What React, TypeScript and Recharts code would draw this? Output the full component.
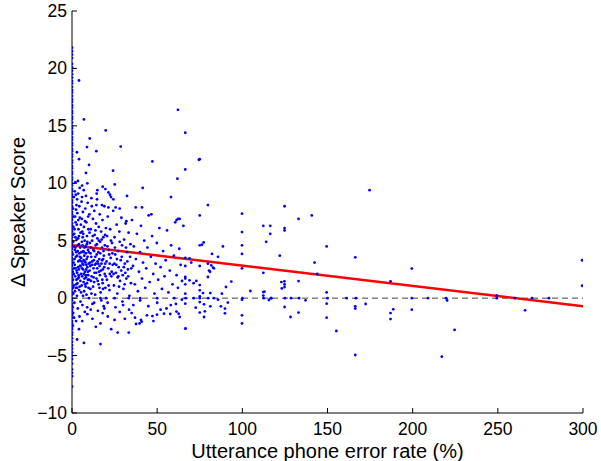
import { ScatterChart, Scatter, XAxis, YAxis, ReferenceLine, Label } from 'recharts';

// error rate (%) on x, change in speaker score on y

// utterances with 0% phone error, all sitting on the y axis
const zeroRateScores = [
  21.8, 21.5, 21.2, 20.9, 20.4, 20.1, 19.8, 19.5, 19.2, 18.9, 18.7, 18.4, 18.1, 17.9, 17.6, 17.3,
  17.1, 16.8, 16.6, 16.3, 16.1, 15.8, 15.6, 15.3, 15.0, 14.8, 14.5, 14.3, 14.0, 13.8, 13.5, 13.3,
  13.0, 12.8, 12.5, 12.3, 12.0, 11.8, 11.5, 11.3, 11.0, 10.8, 10.5, 10.3, 10.0, 9.8, 9.5, 9.3,
  9.0, 8.8, 8.5, 8.3, 8.0, 7.8, 7.5, 7.3, 7.0, 6.8, 6.5, 6.3, 6.0, 5.8, 5.5, 5.3, 5.0, 4.8,
  4.5, 4.3, 4.0, 3.8, 3.5, 3.3, 3.0, 2.8, 2.5, 2.3, 2.0, 1.8, 1.5, 1.3, 1.0, 0.8, 0.5, 0.3,
  0.0, -0.2, -0.5, -0.7, -1.0, -1.2, -1.5, -1.7, -2.0, -2.2, -2.5, -2.7, -3.0, -3.2, -3.5, -3.8,
  -4.1, -4.4, -4.7, -5.0, -5.3, -5.7, -6.2, -6.5, -6.8, -7.7,
];

// dense cloud, low error rates
const lowRatePoints: [number, number][] = [
  [0.6, 7.8], [0.8, 6.2], [0.7, 4.9], [0.9, 3.1], [0.6, 1.6], [0.8, 0.4], [0.7, -1.3], [1.1, 8.8],
  [1.3, 5.6], [1.2, 2.6], [1.4, -0.4], [1.6, 9.3], [1.8, 7.1], [1.7, 4.2], [1.9, 1.9], [2.1, 6.6],
  [2.3, 3.6], [2.2, 0.9], [2.4, -2.0], [2.6, 8.1], [2.8, 5.1], [2.7, 2.4], [2.9, 0.2], [3.1, 7.4],
  [3.3, 4.6], [3.2, 1.3], [3.4, -0.9], [3.6, 9.1], [3.8, 6.0], [3.7, 3.2], [3.9, 2.0], [4.1, 5.4],
  [4.3, 3.9], [4.2, 0.7], [4.4, -1.6], [4.6, 7.0], [4.8, 4.4], [4.7, 2.8], [4.9, 1.5], [5.0, -0.3],
  [5.2, 6.4], [5.4, 3.5], [5.3, 2.1], [5.6, 8.4], [5.8, 4.9], [5.7, 1.1], [6.0, 5.8], [6.2, 3.0],
  [6.1, -0.6], [6.4, 7.5], [6.6, 4.1], [6.5, 2.5], [6.8, 1.4], [7.0, 6.2], [7.2, 3.7], [7.1, 0.6],
  [7.4, 5.0], [7.6, 2.3], [7.5, -1.2], [7.8, 7.8], [8.0, 4.5], [7.9, 3.1], [8.2, 1.8], [8.4, 6.6],
  [8.6, 3.4], [8.5, 0.3], [8.8, 5.4], [9.0, 2.7], [8.9, -0.8], [9.2, 8.3], [9.4, 4.2], [9.3, 1.6],
  [9.6, 6.0], [9.8, 3.0], [9.7, 0.9], [6.3, 5.3], [7.3, 4.4], [8.1, 2.0], [9.1, 3.6], [5.5, 4.0],
  [6.7, 2.9], [8.7, 4.7], [1.5, 3.4], [2.5, 1.2], [3.5, 2.7], [4.5, 3.3], [5.9, 2.6], [7.7, 1.2],
  [1.0, 2.1], [2.0, 4.4], [3.0, 3.7], [4.0, 1.8], [6.9, 3.3], [8.3, 2.5], [9.5, 2.0], [3.6, 5.2],
  [10.2, 7.3], [10.5, 4.8], [10.4, 2.4], [10.8, 0.8], [11.0, 6.0], [11.3, 3.6], [11.2, 1.5],
  [11.6, 8.0], [11.8, 5.0], [11.7, 2.9], [12.0, -0.5], [12.3, 6.9], [12.5, 4.2], [12.4, 1.0],
  [12.8, 3.3], [13.1, 7.6], [13.3, 5.5], [13.2, 2.2], [13.6, 0.3], [13.9, 4.6], [14.1, 6.5],
  [14.0, 3.0], [14.4, 1.7], [14.7, 8.6], [14.9, 5.2], [14.8, 2.6], [15.2, -1.1], [15.5, 4.0],
  [15.7, 6.2], [15.6, 1.2], [16.0, 3.4], [16.3, 7.3], [16.5, 4.9], [16.4, 2.0], [16.8, 0.5],
  [17.1, 5.8], [17.3, 3.0], [17.2, -0.2], [17.6, 4.4], [17.9, 6.8], [18.1, 2.5], [18.0, 1.3],
  [18.4, 5.3], [18.7, 3.7], [18.6, -0.7], [19.0, 8.0], [19.3, 4.6], [19.2, 2.1], [19.6, 0.9],
  [19.9, 6.1], [10.9, 3.9], [12.6, 2.6], [14.5, 3.8], [16.2, 2.8], [18.3, 3.4], [11.5, 1.9],
  [13.7, 3.6], [15.9, 2.3], [17.8, 1.6], [19.5, 3.0], [10.6, 3.1], [15.0, 3.2], [13.0, 1.4],
];

// extra points filling the darkest part of the cloud
const densePoints: [number, number][] = [
  [0.4, 5.5], [0.5, 3.8], [0.4, 2.3], [0.5, 0.9], [0.4, -0.8], [0.5, -2.4], [0.9, 7.1], [1.0, 4.5],
  [1.1, 1.1], [1.2, -1.7], [1.5, 6.0], [1.6, 2.9], [1.7, 0.6], [2.0, 5.3], [2.1, 2.6], [2.4, 7.7],
  [2.5, 4.0], [2.6, 1.6], [2.8, 6.4], [3.0, 2.2], [3.1, 0.9], [3.4, 4.1], [3.5, 1.7], [3.7, 6.8],
  [4.0, 2.5], [4.1, 4.7], [4.3, 8.0], [4.5, 1.0], [4.6, 3.6], [5.0, 5.7], [5.1, 2.8], [5.3, 0.5],
  [5.6, 3.2], [5.8, 6.9], [6.0, 1.9], [6.2, 4.6], [6.5, 0.2], [6.6, 5.6], [6.9, 2.1], [7.0, 4.0],
  [7.3, 1.7], [7.5, 3.2], [7.7, 6.7], [8.0, 1.0], [8.2, 3.9], [8.4, 2.9], [8.8, 1.3], [9.0, 4.9],
  [9.3, 2.3], [9.5, 7.1], [9.9, 4.0], [10.1, 1.6], [10.3, 5.7], [10.7, 2.8], [11.1, 4.4],
  [11.4, 0.4], [11.9, 3.2], [12.2, 5.4], [12.7, 1.8], [13.0, 4.1], [13.4, 2.9], [13.8, 5.9],
  [14.2, 2.2], [14.6, 4.7], [15.1, 1.5], [15.4, 3.0], [15.8, 5.0], [16.1, 0.9], [16.6, 3.9],
  [17.0, 2.4], [17.4, 5.1], [17.7, 3.3], [18.2, 0.8], [18.5, 4.1], [18.9, 2.7], [19.4, 5.5],
  [19.8, 1.9], [20.8, 4.5], [21.5, 1.1], [22.1, 3.0], [22.9, 5.0], [23.7, 3.9], [24.4, 2.1],
  [25.2, 4.4], [26.4, 3.4], [27.2, 1.9], [28.0, 4.9], [29.2, 3.6], [30.4, 2.7], [31.7, 4.4],
  [33.0, 1.9], [34.8, 2.6],
];

// cloud thinning out, 20% to 65%
const midRatePoints: [number, number][] = [
  [20.3, 3.2], [20.6, 5.4], [20.5, 1.6], [21.0, 7.1], [21.3, 2.6], [21.6, 4.2], [22.0, 0.7],
  [22.4, 6.0], [22.7, 3.5], [23.1, 1.9], [23.5, 4.8], [23.9, 2.9], [24.2, 7.6], [24.6, 1.1],
  [25.0, 5.3], [25.4, 3.8], [25.8, 2.2], [26.2, 6.4], [26.6, 0.4], [27.0, 4.1], [27.4, 2.7],
  [27.8, 5.8], [28.2, 1.5], [28.6, 3.3], [29.0, 7.0], [29.4, 4.6], [29.8, 2.0], [30.2, 0.8],
  [30.6, 5.1], [31.0, 3.0], [31.5, 6.5], [31.9, 1.7], [32.3, 4.0], [32.8, 2.5], [33.2, 5.7],
  [33.7, 0.2], [34.1, 3.6], [34.6, 1.3], [21.8, 3.8], [23.3, 2.3], [24.9, 3.0], [26.8, 1.8],
  [28.9, 2.4], [30.9, 1.2], [32.5, 3.2], [34.3, 4.7], [20.9, -0.4], [25.5, -0.8], [29.6, -0.3],
  [33.5, -1.0], [22.2, 2.1], [26.0, 2.9], [27.6, 1.0], [31.3, 2.2],
  [35.2, 6.8], [35.8, 2.8], [36.3, 4.5], [36.9, 1.2], [37.5, 3.4], [38.1, 5.6], [38.7, 0.6],
  [39.3, 2.3], [39.9, 4.0], [40.5, 6.3], [41.1, 1.7], [41.7, 3.1], [42.4, 5.0], [43.0, 0.9],
  [43.6, 2.6], [44.3, 4.4], [45.0, 7.2], [45.6, 1.4], [46.3, 3.6], [47.0, 5.4], [47.7, 2.1],
  [48.4, 0.4], [49.1, 3.0], [49.8, 4.8], [50.6, 1.6], [51.3, 6.1], [52.0, 2.7], [52.8, 0.8],
  [53.5, 4.1], [54.3, 1.9], [55.0, 3.3], [55.8, 5.9], [56.6, 0.5], [57.4, 2.4], [58.2, 4.6],
  [59.0, 1.2], [59.8, 3.7], [60.6, 6.6], [61.4, 2.0], [62.2, 0.9], [63.0, 4.3], [63.8, 2.9],
  [64.6, 1.5], [65.4, 6.3], [36.0, -0.6], [40.0, -0.2], [44.8, -0.7], [50.0, -0.4], [55.5, -0.9],
  [61.0, -0.5], [46.6, 7.3], [62.2, 6.9], [61.4, 6.8], [31.9, 6.7],
];

// everything above ~8
const highScorePoints: [number, number][] = [
  [4.1, 18.95], [7.0, 15.56], [19.8, 14.6], [10.4, 13.9], [2.9, 12.7], [8.8, 13.15], [14.3, 12.8],
  [28.6, 13.2], [47.2, 11.9], [4.1, 12.1], [10.0, 11.6], [24.1, 11.1], [8.2, 10.9], [61.9, 10.4],
  [2.0, 10.1], [3.5, 10.2], [5.9, 9.8], [9.0, 10.0], [4.5, 9.6], [6.9, 9.4], [18.0, 9.7],
  [19.6, 9.5], [14.9, 9.4], [14.5, 9.1], [25.1, 9.9], [21.4, 9.2], [22.3, 9.0], [22.9, 8.8],
  [24.3, 8.6], [41.5, 9.6], [32.3, 8.9], [58.1, 8.8], [2.2, 9.0], [3.0, 8.6], [5.9, 8.8],
  [11.4, 8.7], [8.2, 8.9], [37.4, 7.9], [41.1, 7.9], [14.3, 8.1], [17.6, 8.1], [21.4, 7.9],
  [25.6, 7.9], [28.0, 7.8], [62.2, 16.4], [66.5, 14.4], [74.5, 12.05], [75.0, 12.1], [66.5, 11.2],
  [79.8, 8.1], [63.2, 6.9], [75.0, 7.2], [99.8, 7.35], [124.8, 8.0], [133.0, 6.9], [140.8, 7.2],
  [112.3, 6.3], [116.4, 6.3], [124.8, 6.1], [124.8, 5.9], [116.4, 5.6], [99.8, 5.75], [174.7, 9.4],
];

// sparse points at higher error rates, near the fit line
const highRatePoints: [number, number][] = [
  [114.0, 4.9], [75.0, 4.6], [76.3, 4.65], [77.3, 4.85], [88.6, 4.5], [99.8, 4.6], [149.5, 4.5],
  [82.2, 3.85], [85.7, 3.6], [99.8, 3.85], [122.0, 3.7], [166.3, 3.55], [142.4, 3.1], [66.5, 3.5],
  [69.0, 3.45], [70.0, 3.1], [66.5, 2.8], [75.0, 2.8], [79.8, 3.0], [81.8, 2.85], [83.3, 2.6],
  [99.8, 2.6], [81.0, 2.3], [80.5, 2.4], [82.8, 2.65], [144.0, 2.1], [112.3, 2.2], [187.0, 1.46],
  [66.5, 1.84], [66.5, 1.7], [66.5, 1.2], [66.5, 0.39], [69.0, 1.55], [71.4, 1.3], [73.0, 1.5],
  [75.0, 1.14], [75.0, 0.68], [75.0, 0.16], [76.9, 0.44], [79.8, 1.84], [81.2, 0.44], [88.0, 0.39],
  [90.4, 0.97], [93.5, 1.44], [104.7, 0.62], [112.3, 0.53], [112.3, 0.22], [113.0, 0.56],
  [117.0, 0.0], [122.9, 1.4], [124.7, 1.46], [124.8, 1.2], [124.8, 0.97], [123.2, 0.85],
  [133.0, 1.49], [149.5, 0.5], [199.5, 2.57], [249.4, 0.22], [299.5, 3.3], [299.5, 1.08],
];

// points below the zero line
const negativePoints: [number, number][] = [
  [4.1, -2.7], [7.0, -3.9], [16.7, -4.0], [16.7, -2.2], [26.8, -3.0], [33.3, -3.0], [37.0, -1.7],
  [40.5, -1.9], [40.9, -2.05], [37.6, -2.25], [39.7, -2.2], [47.2, -1.56], [47.8, -2.0],
  [49.9, -1.44], [54.0, -1.35], [57.7, -1.38], [61.3, -1.17], [62.6, -1.35], [66.7, -2.65],
  [9.0, -1.4], [12.0, -1.8], [14.0, -2.5], [18.0, -1.3], [21.0, -1.6], [23.0, -2.7], [11.0, -1.0],
  [13.0, -0.4], [28.0, -1.2], [31.0, -1.8], [30.0, -0.6], [35.0, -1.3], [44.0, -1.5], [52.0, -1.0],
  [58.0, -0.6], [3.0, -3.6], [6.0, -2.0], [19.0, -0.9], [25.0, -1.9], [66.5, -0.48], [66.5, -2.65],
  [75.0, -0.34], [77.5, -0.54], [72.6, -0.83], [75.0, -1.26], [78.0, -1.15], [77.5, -1.64],
  [81.2, -0.71], [85.7, -0.13], [87.4, -0.71], [89.8, -0.91], [89.8, -1.32], [91.5, -0.39],
  [99.8, -0.13], [99.8, -1.5], [99.8, -2.2], [115.6, -0.16], [124.8, -0.77], [128.3, -1.64],
  [133.0, -1.26], [137.1, -0.19], [149.5, -0.48], [149.5, -1.7], [155.2, -2.86], [166.3, -4.95],
  [166.3, -0.71], [166.3, -0.91], [172.4, -0.51], [187.0, -1.3], [188.6, -0.97], [187.0, -1.82],
  [63.2, -1.64], [64.5, -0.13], [199.5, -1.0], [220.2, -0.2], [224.6, -2.77], [217.1, -5.1],
  [266.0, -1.06],
];

// scores that did not change at all
const unchangedRates = [
  10, 16.7, 20, 25, 33.3, 40, 50, 60, 66.7, 71.4, 75, 80, 83.3, 100, 112.5, 116.7, 125, 128.6,
  133.3, 150, 161.2, 166.7, 199.5, 209, 219.6, 249.4, 260, 270, 280,
];

// least squares fit, end points
const fitLine = [
  { x: 0, y: 4.6 },
  { x: 300, y: -0.7 },
];

const xTicks = [0, 50, 100, 150, 200, 250, 300];
const yTicks = [-10, -5, 0, 5, 10, 15, 20, 25];

const points = [
  ...zeroRateScores.map((y) => ({ x: 0, y })),
  ...[
    ...lowRatePoints,
    ...densePoints,
    ...midRatePoints,
    ...highScorePoints,
    ...highRatePoints,
    ...negativePoints,
  ].map(([x, y]) => ({ x, y })),
  ...unchangedRates.map((x) => ({ x, y: 0 })),
];

const FONT = '"Liberation Sans", Arial, Helvetica, sans-serif';

const fmt = (v: number) => (v < 0 ? '\u2212' + Math.abs(v) : String(v));

const Dot = (props: any) => <circle cx={props.cx} cy={props.cy} r={1.4} fill="#0000ff" />;

const XTick = (props: any) => {
  const { x, y, payload } = props;
  return (
    <g>
      <line x1={x} y1={y} x2={x} y2={y - 5} stroke="#000" />
      <text x={x} y={y + 22} textAnchor="middle" fontSize={17.5} fontFamily={FONT} fill="#000">
        {fmt(payload.value)}
      </text>
    </g>
  );
};

const YTick = (props: any) => {
  const { x, y, payload } = props;
  return (
    <g>
      <line x1={x} y1={y} x2={x + 5} y2={y} stroke="#000" />
      <text x={x - 5} y={y + 6} textAnchor="end" fontSize={17.5} fontFamily={FONT} fill="#000">
        {fmt(payload.value)}
      </text>
    </g>
  );
};

export default function App() {
  return (
    <div style={{ position: 'absolute', left: 0, top: 0, background: '#fff' }}>
      <ScatterChart width={601} height={461} margin={{ top: 11, right: 18, bottom: 0, left: 0 }}>
        <XAxis
          type="number"
          dataKey="x"
          domain={[0, 300]}
          ticks={xTicks}
          height={48}
          tickSize={0}
          tickMargin={0}
          tick={<XTick />}
          axisLine={{ stroke: '#000' }}
          allowDataOverflow
        >
          <Label
            content={(p: any) => (
              <text
                x={p.viewBox.x + p.viewBox.width / 2}
                y={p.viewBox.y + 45}
                textAnchor="middle"
                fontSize={20}
                fontFamily={FONT}
                fill="#000"
              >
                Utterance phone error rate (%)
              </text>
            )}
          />
        </XAxis>
        <YAxis
          type="number"
          dataKey="y"
          domain={[-10, 25]}
          ticks={yTicks}
          width={72}
          tickSize={0}
          tickMargin={0}
          tick={<YTick />}
          axisLine={{ stroke: '#000' }}
          allowDataOverflow
        >
          <Label
            content={(p: any) => {
              const cx = p.viewBox.x + 25;
              const cy = p.viewBox.y + p.viewBox.height / 2;
              return (
                <text
                  x={cx}
                  y={cy}
                  transform={`rotate(-90, ${cx}, ${cy})`}
                  textAnchor="middle"
                  fontSize={20}
                  fontFamily={FONT}
                  fill="#000"
                >
                  Δ Speaker Score
                </text>
              );
            }}
          />
        </YAxis>
        <Scatter data={points} shape={<Dot />} isAnimationActive={false} />
        <ReferenceLine y={0} stroke="#444" strokeWidth={1} strokeDasharray="6 4" />
        <ReferenceLine segment={fitLine} stroke="#ff0000" strokeWidth={2.5} />
      </ScatterChart>
    </div>
  );
}
